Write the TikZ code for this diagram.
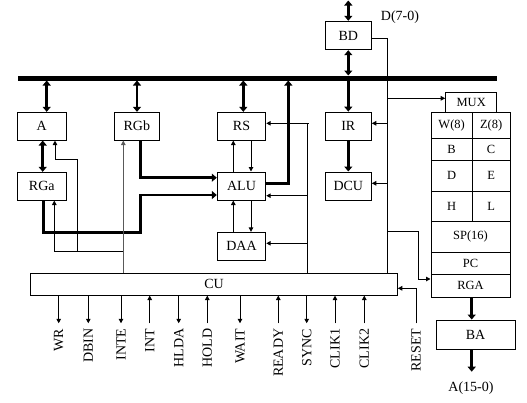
\documentclass[tikz,border=0pt]{standalone}
\usepackage{fontspec}
\setmainfont{Liberation Serif}
\usetikzlibrary{arrows.meta,calc}
\begin{document}
\begin{tikzpicture}[x=1pt,y=-1pt,
 mainfont/.style={font=\fontsize{14}{16}\selectfont},
 box/.style={draw,line width=1pt,inner sep=0pt,mainfont},
 cell/.style={draw,line width=1pt,inner sep=0pt,font=\fontsize{12.5}{14}\selectfont},
 thinl/.style={line width=1pt},
 thk/.style={line width=2.8pt},
 ta/.style={thinl,-{Triangle[length=4.5pt,width=4.5pt]}},
 tka/.style={thk,-{Triangle[length=5pt,width=8pt]}},
 tkd/.style={thk,{Triangle[length=5pt,width=8pt]}-{Triangle[length=5pt,width=8pt]}},
 sig/.style={rotate=90,anchor=east,inner sep=0pt,mainfont},
 lbl/.style={inner sep=0pt,mainfont}]
\useasboundingbox (0,0) rectangle (527,402);
% bus
\coordinate (busL) at (18,78);
\coordinate (busR) at (497,78);
\draw[line width=5pt] (busL) -- (busR);
% boxes
\node[box,minimum width=49pt,minimum height=27.7pt] (A) at (41.8,126.2) {A};
\node[box,minimum width=45pt,minimum height=27.7pt] (RGb) at (136.8,126.2) {RGb};
\node[box,minimum width=48.4pt,minimum height=27.7pt] (RS) at (241.5,126.2) {RS};
\node[box,minimum width=46pt,minimum height=28pt] (IR) at (348.3,126.1) {IR};
\node[box,minimum width=46pt,minimum height=28.4pt] (BD) at (348.3,35.5) {BD};
\node[box,minimum width=49pt,minimum height=27.7pt] (RGa) at (41.8,186.2) {RGa};
\node[box,minimum width=48.4pt,minimum height=28pt] (ALU) at (241.5,186) {ALU};
\node[box,minimum width=46pt,minimum height=28pt] (DCU) at (348.3,186) {DCU};
\node[box,minimum width=48.4pt,minimum height=27.7pt] (DAA) at (241.5,246.2) {DAA};
\node[box,minimum width=366.6pt,minimum height=21.7pt] (CU) at (214,284.2) {CU};
\node[box,minimum width=79pt,minimum height=29.3pt] (BA) at (475.5,334.7) {BA};
% register file
\node[cell,minimum width=51pt,minimum height=20pt] (MUX) at (471.2,102.3) {MUX};
\node[cell,minimum width=41.3pt,minimum height=26pt] (W) at (451.65,125.3) {W(8)};
\node[cell,minimum width=37.7pt,minimum height=26pt] (Z) at (491.15,125.3) {Z(8)};
\node[cell,minimum width=41.3pt,minimum height=21.7pt] (B) at (451.65,149.15) {B};
\node[cell,minimum width=37.7pt,minimum height=21.7pt] (C) at (491.15,149.15) {C};
\node[cell,minimum width=41.3pt,minimum height=31pt] (D) at (451.65,175.5) {D};
\node[cell,minimum width=37.7pt,minimum height=31pt] (E) at (491.15,175.5) {E};
\node[cell,minimum width=41.3pt,minimum height=30pt] (H) at (451.65,206) {H};
\node[cell,minimum width=37.7pt,minimum height=30pt] (L) at (491.15,206) {L};
\node[cell,minimum width=79pt,minimum height=31.7pt] (SP) at (470.5,236.85) {SP(16)};
\node[cell,minimum width=79pt,minimum height=21.3pt] (PC) at (470.5,263.35) {PC};
\node[cell,minimum width=79pt,minimum height=23.3pt] (RGA) at (470.5,285.65) {RGA};
% labels
\node[lbl] (D70) at (400,17.5) {D(7-0)};
\node[lbl] (A150) at (471,388) {A(15-0)};
% thick bus connections
\coordinate (top) at (348.3,0.5);
\draw[tkd] (top) -- (BD.north);
\coordinate (bdT) at (348.3,75.5);
\coordinate (bdB) at (348.3,80.5);
\draw[tkd] (BD.south) -- (bdT);
\draw[tka] (bdB) -- (IR.north);
\coordinate (aB) at (46.7,80.5);
\draw[tkd] (aB) -- (aB |- A.north);
\coordinate (gB) at (137,80.5);
\draw[tkd] (gB) -- (gB |- RGb.north);
\coordinate (sB) at (243.3,80.5);
\draw[tkd] (sB) -- (sB |- RS.north);
\coordinate (aluB) at (288.3,80.5);
\draw[tka] (ALU.east |- 0,183.3) -| (aluB);
\draw[tka] (IR.south) -- (DCU.north);
\draw[tkd] (A.south -| 42.7,0) -- (RGa.north -| 42.7,0);
\draw[tka] (RGb.south -| 140.7,0) |- (ALU.west |- 0,177.7);
\draw[tka] (RGa.south -| 43.3,0) -- (43.3,232.3) -- (140.7,232.3) |- (ALU.west |- 0,195);
% thin control lines left
\draw[ta] (77.7,251.7) -- (77.7,159.3) -- (55,159.3) -- (A.south -| 55,0);
\draw[ta] (123.3,251.7) -| (RGa.south -| 54.3,0);
\draw[ta,draw=black!65] (CU.north -| 123.3,0) -- (RGb.south -| 123.3,0);
% RS / ALU / DAA
\draw[ta] (ALU.north -| 233.3,0) -- (RS.south -| 233.3,0);
\draw[ta] (RS.south -| 251,0) -- (ALU.north -| 251,0);
\draw[ta] (DAA.north -| 233.3,0) -- (ALU.south -| 233.3,0);
\draw[ta] (ALU.south -| 251,0) -- (DAA.north -| 251,0);
% control line x=307.7
\draw[thinl] (308.5,123.3) -- (307.7,123.3) -- (CU.north -| 307.7,0);
\draw[ta] (307.7,123.3) -- (RS.east |- 0,123.3);
\draw[ta] (307.7,195.7) -- (ALU.east |- 0,195.7);
\draw[ta] (307.7,243.3) -- (DAA.east |- 0,243.3);
% control line x=387.7
\draw[thinl] (BD.east |- 0,38.3) -| (CU.north -| 387.7,0);
\draw[ta] (387.7,98.3) -- (MUX.west |- 0,98.3);
\draw[ta] (387.7,123.3) -- (IR.east |- 0,123.3);
\draw[ta] (387.7,183.3) -- (DCU.east |- 0,183.3);
\draw[ta] (387.7,231.7) -- (418.3,231.7) |- (RGA.west |- 0,279);
% RESET
\coordinate (rst) at (416,323.3);
\draw[ta] (rst) |- (CU.east |- 0,288.3);
\node[sig] (lRESET) at (416,328.5) {RESET};
% signals
\foreach \x/\t/\d in {58.7/WR/0,88.3/DBIN/0,121/INTE/0,149.7/INT/1,178.7/HLDA/0,207.3/HOLD/1,240/WAIT/0,278.3/READY/1,306.7/SYNC/0,335/CLIK1/1,364.3/CLIK2/1}{
  \coordinate (s\t) at (\x,323.3);
  \ifnum\d=0
    \draw[ta] (CU.south -| s\t) -- (s\t);
  \else
    \draw[ta] (s\t) -- (CU.south -| s\t);
  \fi
  \node[sig] (l\t) at (\x,328.5) {\t};
}
% address out
\coordinate (aout) at (471.7,371.7);
\draw[tka] (RGA.south -| aout) -- (BA.north -| aout);
\draw[tka] (BA.south -| aout) -- (aout);
\end{tikzpicture}
\end{document}
